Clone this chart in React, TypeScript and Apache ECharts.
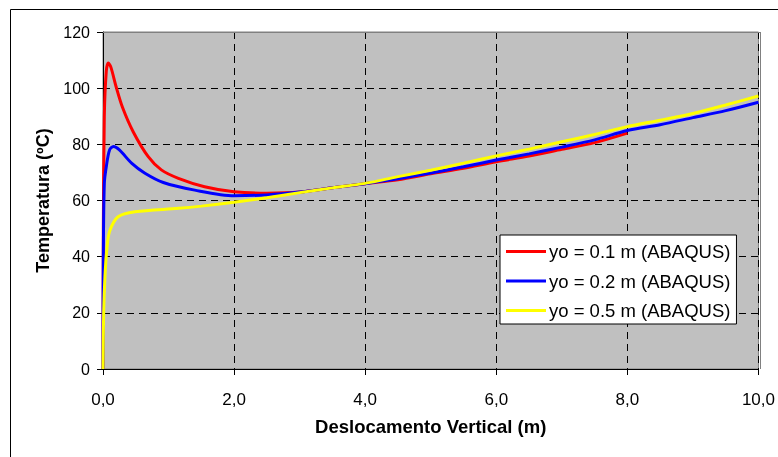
import React, { useEffect, useRef } from "react";
import * as echarts from "echarts";

const seriesNames = ["yo = 0.1 m (ABAQUS)", "yo = 0.2 m (ABAQUS)", "yo = 0.5 m (ABAQUS)"];
const seriesColors = ["#ff0000", "#0000ff", "#ffff00"];

// [displacement (m), temperature (ºC)]
const red01: [number, number][] = [
  [0, 0], [0.005, 50], [0.02, 90], [0.05, 106], [0.08, 109], [0.12, 107.5], [0.2, 100.5],
  [0.3, 93], [0.46, 84.5], [0.69, 75.6], [0.89, 70.9], [1.15, 67.9], [1.55, 64.9],
  [2.0, 63.1], [2.5, 62.6], [3.0, 63], [3.5, 64.5], [4.0, 66], [4.5, 67.4], [5.0, 69.5],
  [5.5, 71.5], [6.0, 73.8], [6.5, 75.8], [7.0, 78.2], [7.5, 80.6], [8.0, 84],
];
const blue02: [number, number][] = [
  [0, 0], [0.005, 40], [0.02, 66], [0.05, 72], [0.1, 78], [0.16, 79.2], [0.25, 78],
  [0.44, 73.2], [0.64, 69.7], [0.92, 66.4], [1.4, 63.7], [2.0, 61.7], [2.5, 62], [3.0, 63],
  [3.5, 64.5], [4.0, 66], [4.5, 67.7], [5.0, 69.8], [5.5, 72], [6.0, 74.4], [6.5, 76.6],
  [7.0, 79], [7.5, 81.6], [8.0, 84.9], [8.5, 87], [9.0, 89.5], [9.5, 92], [10.0, 95],
];
const yellow05: [number, number][] = [
  [0, 0], [0.01, 20], [0.03, 33], [0.06, 43], [0.1, 49], [0.23, 54.2], [0.49, 56],
  [1.15, 57.2], [1.5, 58], [2.0, 59.4], [2.5, 61], [3.0, 62.8], [3.5, 64.5], [4.0, 66.1],
  [4.5, 68.5], [5.0, 70.8], [5.5, 73.3], [6.0, 75.9], [6.5, 78.3], [7.0, 80.9], [7.5, 83.5],
  [8.0, 86.3], [8.5, 88.6], [9.0, 91], [9.5, 94], [10.0, 97.2],
];
const allData = [red01, blue02, yellow05];

const xMin = 0, xMax = 10, xStep = 2;
const yMin = 0, yMax = 120, yStep = 20;

const FONT = "'Liberation Sans', Arial, sans-serif";

export default function App() {
  const ref = useRef<HTMLDivElement>(null);
  useEffect(() => {
    if (!ref.current) return;
    const chart = echarts.init(ref.current, undefined, { renderer: "svg" });
    const gl = 103, gr = 760, gt = 32, gb = 369;
    chart.setOption({
      animation: false,
      textStyle: { fontFamily: FONT },
      grid: {
        left: gl, right: 778 - gr, top: gt, bottom: 457 - gb,
        show: true, backgroundColor: "#c0c0c0", borderColor: "#808080", borderWidth: 1,
      },
      xAxis: {
        type: "value", min: xMin, max: xMax, interval: xStep,
        name: "Deslocamento Vertical (m)", nameLocation: "middle", nameGap: 48,
        nameTextStyle: { fontFamily: FONT, fontSize: 18.5, fontWeight: "bold", color: "#000" },
        axisLine: { show: true, onZero: false, lineStyle: { color: "#000", width: 1 } },
        axisTick: { show: true, length: 6, lineStyle: { color: "#000" } },
        axisLabel: {
          margin: 22, fontSize: 17, color: "#000", fontFamily: FONT,
          formatter: (v: number) => v.toFixed(1).replace(".", ","),
        },
        splitLine: { show: true, lineStyle: { color: "#000", type: [7, 5], width: 1 } },
      },
      yAxis: {
        type: "value", min: yMin, max: yMax, interval: yStep,
        name: "Temperatura (ºC)", nameLocation: "middle", nameGap: 51, nameRotate: 90,
        nameTextStyle: { fontFamily: FONT, fontSize: 18, fontWeight: "bold", color: "#000" },
        axisLine: { show: true, lineStyle: { color: "#000", width: 1 } },
        axisTick: { show: true, length: 6, lineStyle: { color: "#000" } },
        axisLabel: { margin: 13, fontSize: 16, color: "#000", fontFamily: FONT },
        splitLine: { show: true, lineStyle: { color: "#000", type: [7, 5], width: 1 } },
      },
      legend: {
        orient: "vertical", left: 500, top: 235,
        backgroundColor: "#ffffff", borderColor: "#000", borderWidth: 1,
        padding: [7, 6, 4, 6], itemGap: 10.5, itemWidth: 40, itemHeight: 3,
        icon: "rect",
        textStyle: { fontFamily: FONT, fontSize: 18.5, color: "#000", padding: [0, 0, 0, -2] },
        data: seriesNames,
      },
      series: allData.map((d, i) => ({
        name: seriesNames[i], type: "line", data: d, showSymbol: false, smooth: 0.3,
        lineStyle: { color: seriesColors[i], width: 3 }, itemStyle: { color: seriesColors[i] },
        z: 3 + i,
      })),
      graphic: [
        { type: "line", z: 100, shape: { x1: gl, y1: gt + 0.5, x2: gr, y2: gt + 0.5 }, style: { stroke: "#808080", lineWidth: 1 } },
        { type: "line", z: 100, shape: { x1: gr + 0.5, y1: gt, x2: gr + 0.5, y2: gb }, style: { stroke: "#808080", lineWidth: 1 } },
        { type: "rect", z: 100, shape: { x: 10.5, y: 9.5, width: 800, height: 500 }, style: { fill: "none", stroke: "#000", lineWidth: 1 } },
      ],
    });
    return () => chart.dispose();
  }, []);
  return <div ref={ref} style={{ position: "fixed", left: 0, top: 0, width: 778, height: 457 }} />;
}
